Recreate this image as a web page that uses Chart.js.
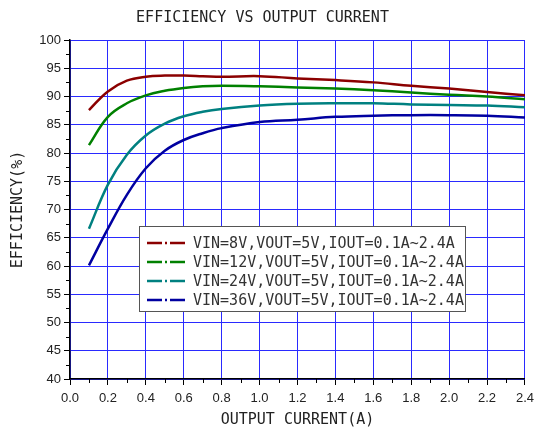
<!DOCTYPE html>
<html>
<head>
<meta charset="utf-8">
<script src="https://cdn.jsdelivr.net/npm/chart.js@4.4.1/dist/chart.umd.min.js"></script>
<style>
  body { margin: 0; background: #fff; }
  #wrap { width: 540px; height: 432px; }
</style>
</head>
<body>
<div id="wrap"><canvas id="effChart" width="540" height="432"></canvas></div>
<script>
const currentA = [0.1, 0.2, 0.3, 0.4, 0.5, 0.6, 0.7, 0.8, 1.0, 1.2, 1.4, 1.6, 1.8, 2.0, 2.2, 2.4];
const vin8 = [87.6, 90.9, 92.8, 93.5, 93.7, 93.7, 93.6, 93.5, 93.6, 93.2, 92.9, 92.5, 91.9, 91.4, 90.8, 90.2];
const vin12 = [81.4, 86.4, 88.8, 90.2, 91.0, 91.5, 91.8, 91.9, 91.8, 91.6, 91.4, 91.1, 90.7, 90.3, 90.0, 89.5];
const vin24 = [66.6, 74.4, 79.7, 83.1, 85.2, 86.5, 87.3, 87.8, 88.4, 88.7, 88.8, 88.8, 88.6, 88.5, 88.4, 88.1];
const vin36 = [60.1, 66.6, 72.6, 77.3, 80.4, 82.3, 83.5, 84.4, 85.5, 85.9, 86.4, 86.6, 86.7, 86.7, 86.6, 86.3];

const seriesLabels = [
  "VIN=8V,VOUT=5V,IOUT=0.1A~2.4A",
  "VIN=12V,VOUT=5V,IOUT=0.1A~2.4A",
  "VIN=24V,VOUT=5V,IOUT=0.1A~2.4A",
  "VIN=36V,VOUT=5V,IOUT=0.1A~2.4A",
];
const seriesColors = ["#8b0000", "#008000", "#008080", "#0000a0"];
const seriesValues = [vin8, vin12, vin24, vin36];

const monoFont = "'DejaVu Sans Mono', monospace";
const tickFont = "'Liberation Sans', Arial, sans-serif";

function toPoints(values) {
  return values.map((v, i) => ({ x: currentA[i], y: v }));
}

// minor ticks, outward, like the original plot
const minorTicks = {
  id: "minorTicks",
  afterDraw(chart) {
    const { ctx, scales: { x, y } } = chart;
    ctx.save();
    ctx.strokeStyle = "#000";
    ctx.lineWidth = 1;
    ctx.beginPath();
    for (let v = 0.1; v < 2.4; v += 0.2) {
      const px = Math.round(x.getPixelForValue(v)) + 0.5;
      ctx.moveTo(px, y.bottom);
      ctx.lineTo(px, y.bottom + 4);
    }
    for (let v = 42.5; v < 100; v += 5) {
      const py = Math.round(y.getPixelForValue(v)) + 0.5;
      ctx.moveTo(x.left, py);
      ctx.lineTo(x.left - 4, py);
    }
    ctx.stroke();
    ctx.restore();
  },
};

// boxed legend with dash-dot samples
const boxLegend = {
  id: "boxLegend",
  afterDraw(chart) {
    const { ctx } = chart;
    const left = 139, top = 226, width = 326, height = 85;
    ctx.save();
    ctx.fillStyle = "#fff";
    ctx.fillRect(left, top, width, height);
    ctx.strokeStyle = "#555";
    ctx.lineWidth = 1;
    ctx.strokeRect(left + 0.5, top + 0.5, width, height);
    ctx.font = "15px " + monoFont;
    ctx.textBaseline = "middle";
    chart.data.datasets.forEach((ds, i) => {
      const rowY = top + 17 + i * 19;
      ctx.strokeStyle = ds.borderColor;
      ctx.lineWidth = 2.5;
      ctx.setLineDash([15, 3, 2, 3]);
      ctx.beginPath();
      ctx.moveTo(147, rowY);
      ctx.lineTo(185, rowY);
      ctx.stroke();
      ctx.setLineDash([]);
      ctx.fillStyle = "#333";
      ctx.fillText(ds.label, 193, rowY + 1);
    });
    ctx.restore();
  },
};

new Chart(document.getElementById("effChart"), {
  type: "line",
  data: {
    datasets: seriesValues.map((values, i) => ({
      label: seriesLabels[i],
      data: toPoints(values),
      borderColor: seriesColors[i],
      backgroundColor: seriesColors[i],
      borderWidth: 2.5,
      pointRadius: 0,
      tension: 0.4,
      fill: false,
    })),
  },
  options: {
    responsive: false,
    animation: false,
    layout: { padding: { left: 0, right: 15, top: 0, bottom: 0 } },
    plugins: {
      legend: { display: false },
      tooltip: { enabled: false },
      title: {
        display: true,
        text: "EFFICIENCY VS OUTPUT CURRENT",
        color: "#222",
        font: { family: monoFont, size: 15, weight: "normal" },
        padding: { top: 9, bottom: 13 },
      },
    },
    scales: {
      x: {
        type: "linear",
        min: 0,
        max: 2.4,
        afterFit(scale) { scale.height = 53; },
        ticks: {
          stepSize: 0.2,
          color: "#222",
          font: { family: tickFont, size: 13 },
          padding: 6,
          maxRotation: 0,
          callback: (v) => Number(v).toFixed(1),
        },
        grid: { color: "#2a2aff", lineWidth: 1, tickColor: "#000", tickLength: 6 },
        border: { color: "#000", width: 1.5 },
        title: {
          display: true,
          text: "OUTPUT CURRENT(A)",
          color: "#222",
          font: { family: monoFont, size: 15 },
          padding: { top: 0, bottom: 3 },
        },
      },
      y: {
        min: 40,
        max: 100,
        afterFit(scale) { scale.width = 70; },
        ticks: {
          stepSize: 5,
          color: "#222",
          font: { family: tickFont, size: 13 },
          padding: 3,
        },
        grid: { color: "#2a2aff", lineWidth: 1, tickColor: "#000", tickLength: 6 },
        border: { color: "#000", width: 1.5 },
        title: {
          display: true,
          text: "EFFICIENCY(%)",
          color: "#222",
          font: { family: monoFont, size: 15 },
          padding: { top: 9, bottom: 0 },
        },
      },
    },
  },
  plugins: [minorTicks, boxLegend],
});
</script>
</body>
</html>
